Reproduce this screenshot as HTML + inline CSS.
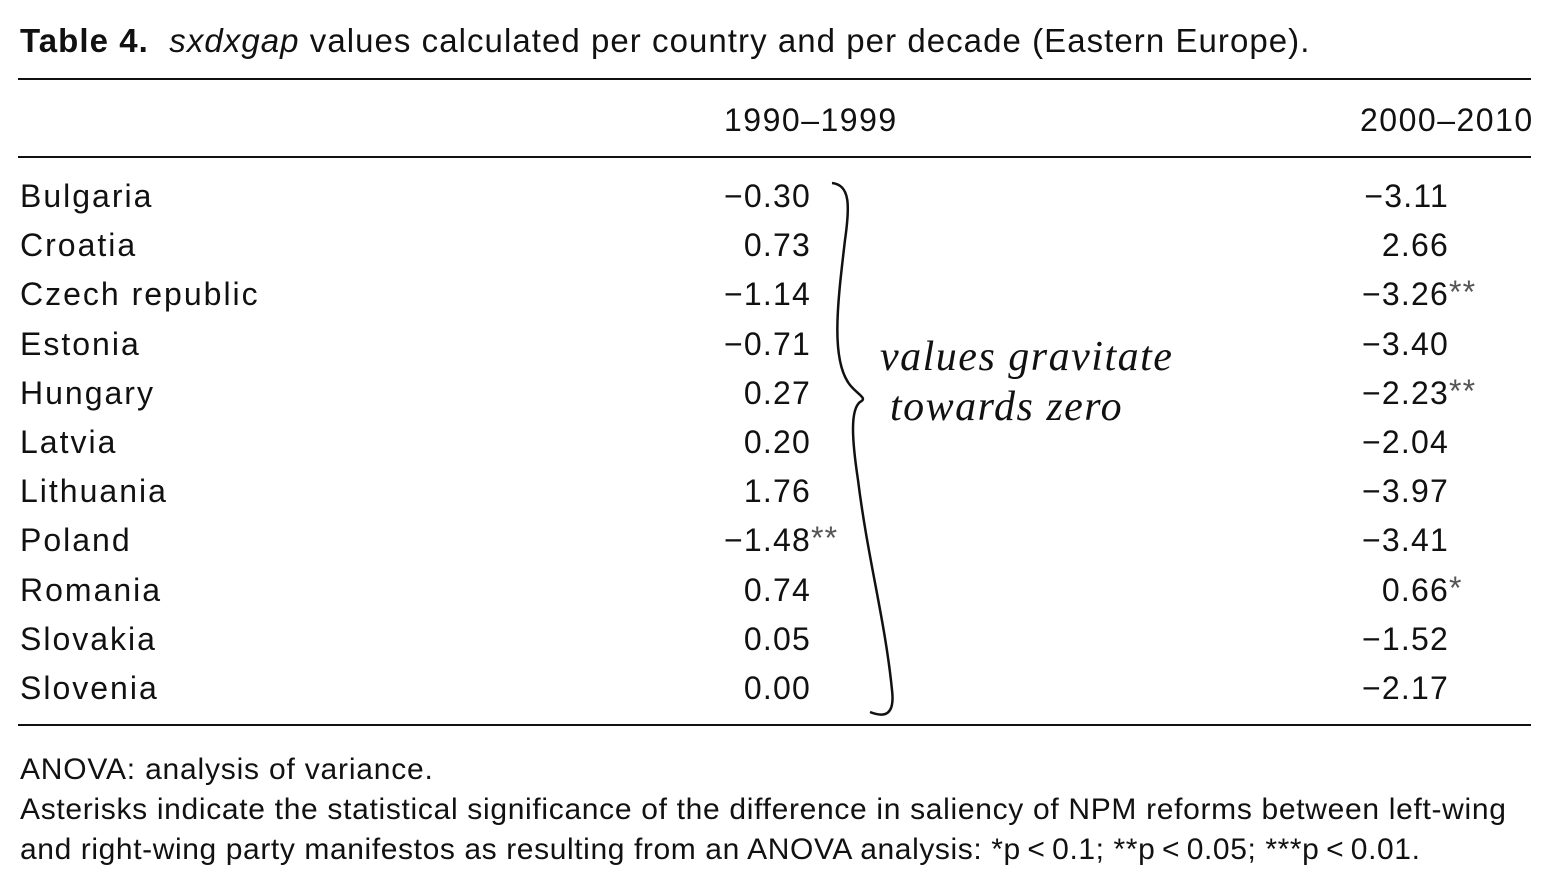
<!DOCTYPE html>
<html><head><meta charset="utf-8">
<style>
body{margin:0;background:#fff;width:1545px;height:877px;position:relative;overflow:hidden;font-family:"Liberation Sans",sans-serif;color:#111}
.t{position:absolute;white-space:nowrap;font-size:32px;line-height:1;letter-spacing:1.2px}
.r{text-align:right}
.rule{position:absolute;left:18px;width:1513px;background:#111}
.hand{position:absolute;font-family:"Liberation Serif",serif;font-style:italic;font-size:42px;white-space:nowrap;color:#111}
</style></head><body>
<div class="t" style="left:20px;top:24px;font-size:33px;letter-spacing:1.05px"><b>Table 4.</b>&nbsp; <i>sxdxgap</i> values calculated per country and per decade (Eastern Europe).</div>
<div class="rule" style="top:78px;height:2px"></div>
<div class="t" style="left:724px;top:104px;letter-spacing:1.5px">1990–1999</div>
<div class="t" style="left:1360px;top:104px;letter-spacing:1.5px">2000–2010</div>
<div class="rule" style="top:156px;height:2px"></div>
<div id="rows"></div>
<div class="rule" style="top:724px;height:2px"></div>
<div class="t" style="left:20px;top:755px;font-size:30px;letter-spacing:0.8px">ANOVA: analysis of variance.</div>
<div class="t" style="left:20px;top:795px;font-size:30px;letter-spacing:0.68px">Asterisks indicate the statistical significance of the difference in saliency of NPM reforms between left-wing</div>
<div class="t" style="left:20px;top:835px;font-size:30px;letter-spacing:0.6px">and right-wing party manifestos as resulting from an ANOVA analysis: *p&thinsp;&lt;&thinsp;0.1; **p&thinsp;&lt;&thinsp;0.05; ***p&thinsp;&lt;&thinsp;0.01.</div>
<svg style="position:absolute;left:0;top:0" width="1545" height="877">
<path d="M832,183 C850,185 850,205 845,240 C838,300 830,360 850,385 C858,395 868,398 860,402 C850,410 852,440 858,480 C868,560 885,620 892,690 C895,715 885,718 870,712" fill="none" stroke="#111" stroke-width="2.5"/>
</svg>
<div class="hand" style="left:880px;top:333px;letter-spacing:1.5px">values gravitate</div>
<div class="hand" style="left:890px;top:383px;letter-spacing:1.5px">towards zero</div>
<script>
const countries=["Bulgaria","Croatia","Czech republic","Estonia","Hungary","Latvia","Lithuania","Poland","Romania","Slovakia","Slovenia"];
const v1990=["−0.30","0.73","−1.14","−0.71","0.27","0.20","1.76","−1.48","0.74","0.05","0.00"];
const s1990=["","","","","","","","**","","",""];
const v2000=["−3.11","2.66","−3.26","−3.40","−2.23","−2.04","−3.97","−3.41","0.66","−1.52","−2.17"];
const s2000=["","","**","","**","","","","*","",""];
const rows=document.getElementById('rows');
countries.forEach((c,i)=>{
  const y=180+i*49.2;
  const a=document.createElement('div');a.className='t';a.style.left='20px';a.style.top=y+'px';a.style.letterSpacing='2px';a.textContent=c;
  
  
  rows.appendChild(a);
  const b=document.createElement('div');b.className='t r';b.style.right=(1545-811)+'px';b.style.top=y+'px';b.textContent=v1990[i];
  
  
  rows.appendChild(b);
  if(s1990[i]){const s=document.createElement('div');s.className='t';s.style.left='811px';s.style.top=(y-2)+'px';s.style.color='#555';s.textContent=s1990[i];
  
  
  rows.appendChild(s);}
  const d=document.createElement('div');d.className='t r';d.style.right=(1545-1449)+'px';d.style.top=y+'px';d.textContent=v2000[i];
  
  
  rows.appendChild(d);
  if(s2000[i]){const s=document.createElement('div');s.className='t';s.style.left='1449px';s.style.top=(y-2)+'px';s.style.color='#555';s.textContent=s2000[i];
  
  
  rows.appendChild(s);}
});
</script>
</body></html>
